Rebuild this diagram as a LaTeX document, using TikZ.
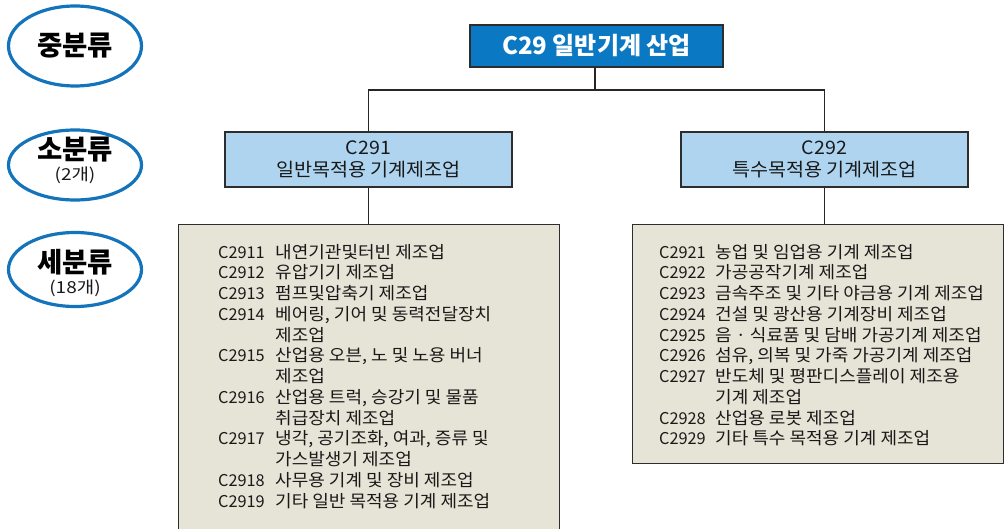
\documentclass[tikz,border=0pt]{standalone}
\usepackage{fontspec}
\usepackage{array}
\setmainfont{Noto Sans CJK KR}
\newfontfamily\widefont{Noto Sans CJK KR}[FakeStretch=1.06]
\newfontfamily\subfont{Noto Sans CJK KR}[FakeStretch=1.15]
\newfontfamily\codefontfam{Noto Sans CJK KR}
\newcommand{\codefnt}{\codefontfam\fontsize{16.3}{20.75}\selectfont}
\usetikzlibrary{shapes.geometric}
\definecolor{ellblue}{RGB}{20,116,187}
\definecolor{topblue}{RGB}{10,120,194}
\definecolor{lightblue}{RGB}{174,212,240}
\definecolor{graybox}{RGB}{230,228,214}
\definecolor{bordergray}{RGB}{45,45,45}
\definecolor{txt}{RGB}{25,25,25}
\tikzset{
  ell/.style={draw=ellblue, line width=3.2pt, ellipse, inner sep=0pt, minimum width=133pt},
  head/.style={font=\fontsize{27.5}{30}\selectfont\bfseries, text=black, inner sep=0pt},
  sub/.style={font=\subfont\fontsize{16.5}{18}\selectfont, text=txt, inner sep=0pt},
  topbox/.style={draw=bordergray, line width=1.3pt, fill=topblue, text=white, inner sep=0pt,
    minimum width=253pt, minimum height=42pt, font=\fontsize{24}{26}\selectfont\bfseries},
  midbox/.style={draw=bordergray, line width=1.3pt, fill=lightblue, text=txt, inner sep=0pt,
    minimum width=287pt, minimum height=55pt, align=center, font=\widefont\fontsize{18.5}{22}\selectfont},
  listbox/.style={draw=bordergray, line width=1.3pt, fill=graybox, inner sep=0pt},
  listtext/.style={inner sep=0pt, anchor=north west, text=txt, font=\widefont\fontsize{17}{20.75}\selectfont},
  conn/.style={draw=black!85, line width=1.3pt}
}
\begin{document}
\begin{tikzpicture}[x=1pt,y=-1pt]
\useasboundingbox (0,0) rectangle (1005,529);
% left side ellipses
\node[ell, minimum height=80pt] (e1) at (75,46) {};
\node[ell, minimum height=70pt] (e2) at (75,165) {};
\node[ell, minimum height=74pt] (e3) at (75,269.5) {};
\node[head] (e1t) at (75,46) {중분류};
\node[head] (e2t) at (75,150) {소분류};
\node[sub] (e2s) at (75,175) {(2개)};
\node[head] (e3t) at (75,262) {세분류};
\node[sub] (e3s) at (75,288) {(18개)};
% boxes
\node[topbox] (top) at (596.5,46) {C29 일반기계 산업};
\node[midbox] (c291) at (368.5,159.5) {C291\\일반목적용 기계제조업};
\node[midbox] (c292) at (824.5,159.5) {C292\\특수목적용 기계제조업};
\node[listbox, minimum width=381pt, minimum height=320pt, anchor=north west] (g1) at (178,224) {};
\node[listbox, minimum width=371pt, minimum height=239pt, anchor=north west] (g2) at (632,224) {};
% connectors
\coordinate (j) at (595,90);
\draw[conn] (top.south -| j) -- (j);
\draw[conn] (c291.north) -- (c291.north |- j) -- (c292.north |- j) -- (c292.north);
\draw[conn] (c291.south) -- (c291.south |- g1.north);
\draw[conn] (c292.south) -- (c292.south |- g2.north);
% lists
\node[listtext] (l1) at (218,243.5) {\begin{tabular}{@{}>{\codefnt}p{57pt}@{}l@{}}
C2911 & 내연기관및터빈 제조업\\
C2912 & 유압기기 제조업\\
C2913 & 펌프및압축기 제조업\\
C2914 & 베어링, 기어 및 동력전달장치\\
 & 제조업\\
C2915 & 산업용 오븐, 노 및 노용 버너\\
 & 제조업\\
C2916 & 산업용 트럭, 승강기 및 물품\\
 & 취급장치 제조업\\
C2917 & 냉각, 공기조화, 여과, 증류 및\\
 & 가스발생기 제조업\\
C2918 & 사무용 기계 및 장비 제조업\\
C2919 & 기타 일반 목적용 기계 제조업
\end{tabular}};
\node[listtext] (l2) at (659,243.5) {\begin{tabular}{@{}>{\codefnt}p{56pt}@{}l@{}}
C2921 & 농업 및 임업용 기계 제조업\\
C2922 & 가공공작기계 제조업\\
C2923 & 금속주조 및 기타 야금용 기계 제조업\\
C2924 & 건설 및 광산용 기계장비 제조업\\
C2925 & 음 · 식료품 및 담배 가공기계 제조업\\
C2926 & 섬유, 의복 및 가죽 가공기계 제조업\\
C2927 & 반도체 및 평판디스플레이 제조용\\
 & 기계 제조업\\
C2928 & 산업용 로봇 제조업\\
C2929 & 기타 특수 목적용 기계 제조업
\end{tabular}};
\end{tikzpicture}
\end{document}
